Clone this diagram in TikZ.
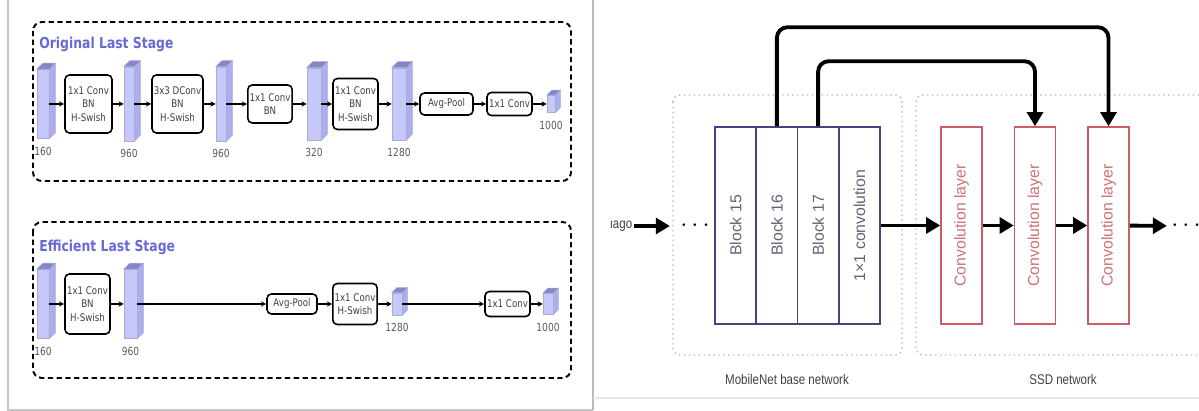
\documentclass[tikz,border=0pt]{standalone}
\usepackage{fontspec}
\setmainfont{Liberation Sans}
\newfontfamily\stagefont[FakeStretch=0.82]{DejaVu Sans}
\newfontfamily\capfont[FakeStretch=0.82]{Liberation Sans}
\usetikzlibrary{arrows.meta}

\definecolor{slabfill}{RGB}{198,200,250}
\definecolor{slabsidefill}{RGB}{172,174,238}
\definecolor{slabtopfill}{RGB}{132,134,200}
\definecolor{titleblue}{RGB}{104,104,214}
\definecolor{blockedge}{RGB}{72,66,128}
\definecolor{blocktext}{RGB}{100,98,118}
\definecolor{convred}{RGB}{205,92,100}
\definecolor{convtext}{RGB}{206,112,120}

% feature map: front face is the node, side and top hang on its anchors
% #1 name, #2 centre, #3 width, #4 height, #5 depth, #6 channels
\newcommand{\slab}[6]{%
  \node[slabface, minimum width=#3, minimum height=#4] (#1) at (#2) {};
  \filldraw[slabside] (#1.north east) -- ++(#5,#5) -- ([shift={(#5,#5)}]#1.south east) -- (#1.south east) -- cycle;
  \filldraw[slabtop] (#1.north west) -- ++(#5,#5) -- ([shift={(#5,#5)}]#1.north east) -- (#1.north east) -- cycle;
  \node[dimlabel] at ([yshift=-7pt]#1.south) {#6};
}

\begin{document}
\begin{tikzpicture}[x=0.02cm, y=0.02cm,
  stagebox/.style={draw, line width=0.9pt, rounded corners=2.5pt, fill=white, align=center,
    inner xsep=1pt, inner ysep=0pt, text=black!75, font=\stagefont\fontsize{6}{7.6}\selectfont},
  slabface/.style={fill=slabfill, draw=slabtopfill!70, line width=0.3pt, inner sep=0pt},
  slabside/.style={fill=slabsidefill, draw=slabtopfill!70, line width=0.3pt},
  slabtop/.style={fill=slabtopfill, draw=slabtopfill!70, line width=0.3pt},
  dimlabel/.style={text=black!65, font=\stagefont\fontsize{6.3}{7}\selectfont, inner sep=0pt},
  stagetitle/.style={text=titleblue, font=\stagefont\bfseries\fontsize{8.6}{10}\selectfont, inner sep=0pt},
  stageframe/.style={draw, line width=1.1pt, dash pattern=on 3pt off 2pt, rounded corners=5pt},
  flow/.style={-{Stealth[length=3pt,width=3pt]}, line width=0.8pt},
  block/.style={draw=blockedge, line width=0.9pt, minimum width=0.825cm, minimum height=3.94cm,
    inner sep=0pt, text=blocktext, font=\fontsize{9}{10}\selectfont},
  convlayer/.style={block, draw=convred, text=convtext, minimum width=0.82cm},
  netframe/.style={draw=gray!55, line width=0.8pt, dotted, rounded corners=4pt},
  caption/.style={text=black!75, font=\capfont\fontsize{8}{9}\selectfont},
  ellipsis/.style={inner sep=0pt, font=\Large},
  bigarrow/.style={-{Triangle[length=8pt,width=9pt]}, line width=2.2pt},
  shortcut/.style={bigarrow, rounded corners=6pt}]

\useasboundingbox (0,0) rectangle (1199,411);

% panel rules
\draw[gray!45, line width=0.8pt] (8,411) -- (8,1) -- (593,1);
\draw[gray!55, line width=0.8pt] (593,411) -- (593,1);
\draw[gray!20, line width=0.8pt] (593,13) -- (1199,13);

% ---- left: original last stage
\draw[stageframe] (33,389) rectangle (571,230);
\node[stagetitle, anchor=west] (origtitle) at (39,367) {Original Last Stage};

\slab{s1}{43,307}{0.24cm}{1.38cm}{0.12cm}{160}
\node[stagebox, minimum width=0.94cm, minimum height=1.16cm] (b1) at (88.5,307) {1x1 Conv\\BN\\H-Swish};
\slab{s2}{129,307}{0.2cm}{1.48cm}{0.12cm}{960}
\node[stagebox, minimum width=0.98cm, minimum height=1.16cm] (b2) at (177.5,307) {3x3 DConv\\BN\\H-Swish};
\slab{s3}{221,307}{0.2cm}{1.48cm}{0.12cm}{960}
\node[stagebox, minimum width=0.88cm, minimum height=0.76cm] (b3) at (270,307) {1x1 Conv\\BN};
\slab{s4}{314,307}{0.28cm}{1.44cm}{0.12cm}{320}
\node[stagebox, minimum width=0.9cm, minimum height=1.02cm] (b4) at (355.5,307) {1x1 Conv\\BN\\H-Swish};
\slab{s5}{399,307}{0.28cm}{1.44cm}{0.12cm}{1280}
\node[stagebox, minimum width=1.06cm, minimum height=0.44cm] (b5) at (446.5,307) {Avg-Pool};
\node[stagebox, minimum width=0.9cm, minimum height=0.46cm] (b6) at (509.5,307) {1x1 Conv};
\slab{c1}{551,307}{0.16cm}{0.34cm}{0.1cm}{1000}

% ---- left: efficient last stage
\draw[stageframe] (33,189) rectangle (571,33);
\node[stagetitle, anchor=west] (efftitle) at (39,164) {Efficient Last Stage};

\slab{t1}{43,107}{0.24cm}{1.38cm}{0.12cm}{160}
\node[stagebox, minimum width=0.9cm, minimum height=1.2cm] (d1) at (87.5,107) {1x1 Conv\\BN\\H-Swish};
\slab{t2}{130.5,107}{0.26cm}{1.38cm}{0.12cm}{960}
\node[stagebox, minimum width=1.0cm, minimum height=0.4cm] (d2) at (292,107) {Avg-Pool};
\node[stagebox, minimum width=0.88cm, minimum height=0.82cm] (d3) at (355,107) {1x1 Conv\\H-Swish};
\slab{t3}{397,107}{0.2cm}{0.44cm}{0.1cm}{1280}
\node[stagebox, minimum width=0.9cm, minimum height=0.5cm] (d4) at (507.5,107) {1x1 Conv};
\slab{t4}{548,107}{0.2cm}{0.42cm}{0.1cm}{1000}

\foreach \a/\b in {s1/b1,b1/s2,s2/b2,b2/s3,s3/b3,b3/s4,s4/b4,b4/s5,s5/b5,b5/b6,b6/c1,
                   t1/d1,d1/t2,t2/d2,d2/d3,d3/t3,t3/d4,d4/t4}
  \draw[flow] (\a) -- (\b);

% ---- right: MobileNet + SSD
\draw[netframe] (673,316) rectangle (902,56);
\draw[netframe] (1199,316) -- (916,316) -- (916,56) -- (1199,56);
\node[caption] (basecap) at (787,32) {MobileNet base network};
\node[caption] (ssdcap) at (1063,32) {SSD network};

\node[caption, inner sep=1pt] (img) at (621,185) {\i ago};
\node[ellipsis] (dotsin) at (695,185) {$\cdots$};

\node[block] (b15) at (735.6,185.5) {\rotatebox{90}{Block 15}};
\node[block] (b16) at (776.9,185.5) {\rotatebox{90}{Block 16}};
\node[block] (b17) at (818.1,185.5) {\rotatebox{90}{Block 17}};
\node[block] (bconv) at (859.4,185.5) {\rotatebox{90}{1×1 convolution}};

\node[convlayer] (l1) at (961.5,185.5) {\rotatebox{90}{Convolution layer}};
\node[convlayer] (l2) at (1035,185.5) {\rotatebox{90}{Convolution layer}};
\node[convlayer] (l3) at (1108.5,185.5) {\rotatebox{90}{Convolution layer}};
\node[ellipsis] (dotsout) at (1186,185) {$\cdots$};

\draw[bigarrow, shorten >=0.2cm] (img) -- (dotsin);
\draw[bigarrow] (bconv) -- (l1);
\draw[bigarrow] (l1) -- (l2);
\draw[bigarrow] (l2) -- (l3);
\draw[bigarrow, shorten >=0.08cm] (l3) -- (dotsout);

% feature taps into the SSD head
\draw[shortcut] (b16.north) -- ++(0,99) -| (l3.north);
\draw[shortcut] (b17.north) -- ++(0,65) -| (l2.north);
\end{tikzpicture}
\end{document}
